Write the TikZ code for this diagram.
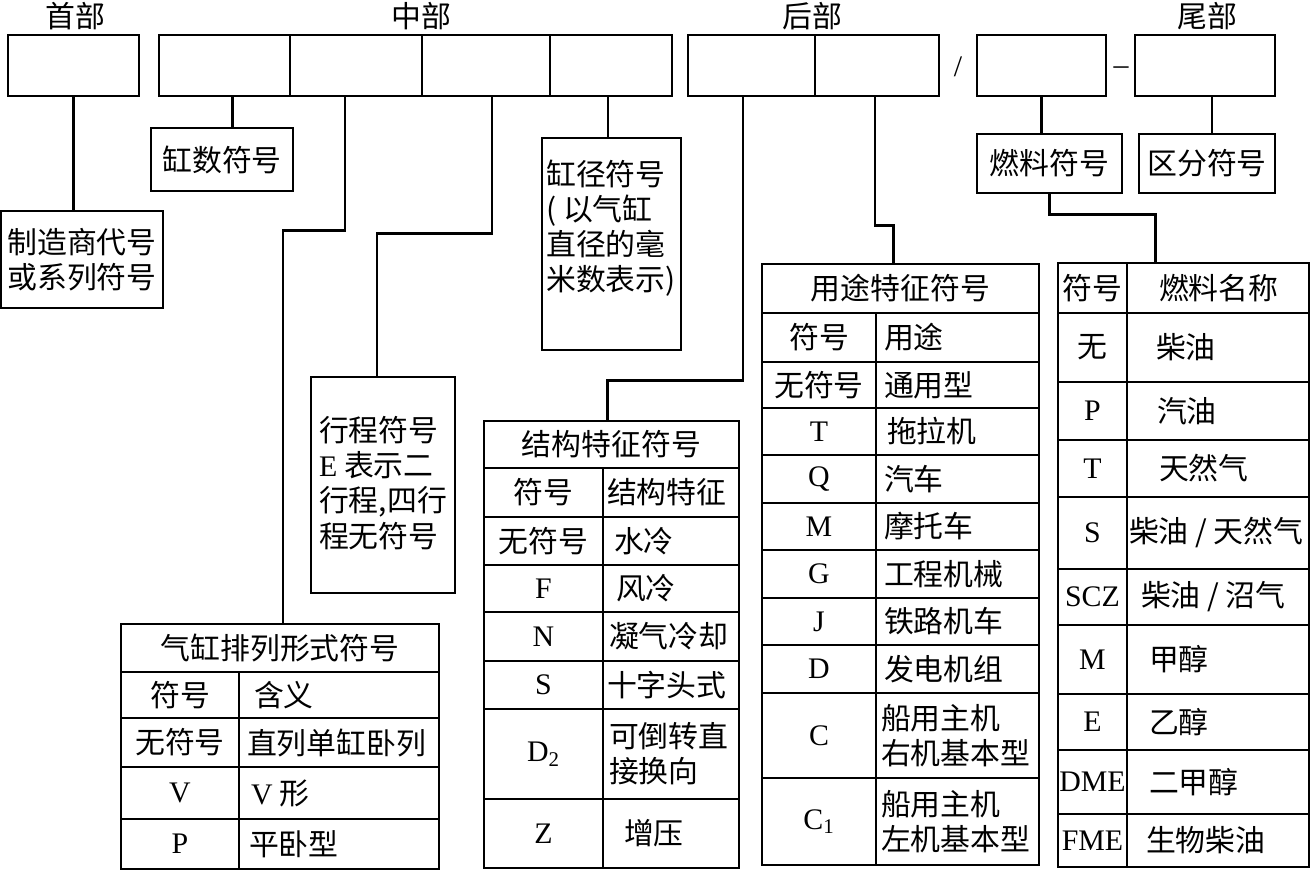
\documentclass[tikz,border=0pt]{standalone}
\usepackage{fontspec}
\setmainfont{Noto Sans CJK SC}
\newfontfamily\romfont{Liberation Serif}
\usetikzlibrary{calc,fit}

\newcommand{\lat}[1]{{\romfont #1}}

\tikzset{
    box/.style={draw, line width=1.5pt, inner sep=0pt},
    wire/.style={line width=1.5pt},
    txt/.style={inner sep=0pt, align=left},
}

\begin{document}
\begin{tikzpicture}[x=0.02cm, y=-0.02cm, font=\fontsize{17}{20}\selectfont]
    \useasboundingbox (0,0) rectangle (1311,871);

    % code frame
    \node (headlbl) at (75,16) {首部};
    \node (midlbl) at (421,16) {中部};
    \node (rearlbl) at (812,16) {后部};
    \node (taillbl) at (1207,16) {尾部};
    \node[box, fit={(8,35) (139,96)}] (head) {};
    \node[box, fit={(159,35) (290,96)}] (mid1) {};
    \node[box, fit={(290,35) (422,96)}] (mid2) {};
    \node[box, fit={(422,35) (550,96)}] (mid3) {};
    \node[box, fit={(550,35) (672,96)}] (mid4) {};
    \node[box, fit={(688,35) (815,96)}] (rear1) {};
    \node[box, fit={(815,35) (939,96)}] (rear2) {};
    \node[box, fit={(977,35) (1106,96)}] (tail1) {};
    \node[box, fit={(1135,35) (1275,96)}] (tail2) {};
    \node (slash) at (958,67) {\lat{/}};
    \node (dash) at (1121,71) {\lat{–}};

    % single boxes
    \node[box, fit={(1,211) (163,308)}] (maker) {};
    \node[txt, align=center] (makertxt) at (maker) {制造商代号\\或系列符号};
    \node[box, fit={(151,128) (293,191)}] (cyl) {};
    \node[txt] (cyltxt) at (cyl) {缸数符号};
    \node[box, fit={(542,138) (681,350)}] (bore) {};
    \node[txt] (boretxt) at (611,228) {缸径符号\\( 以气缸\\直径的毫\\米数表示)};
    \node[box, fit={(311,377) (455,593)}] (strk) {};
    \node[txt] (strktxt) at (383,483) {行程符号\\\lat{E} 表示二\\行程,四行\\程无符号};
    \node[box, fit={(977,134) (1122,193)}] (fuel) {};
    \node[txt] (fueltxt) at (fuel) {燃料符号};
    \node[box, fit={(1139,134) (1275,193)}] (dist) {};
    \node[txt] (disttxt) at (dist) {区分符号};

    % cylinder arrangement table
    \node[box, fit={(121,624) (439,672)}] (arr) {};
    \node[txt] (arrtxt) at (arr) {气缸排列形式符号};
    \foreach \ya/\yb/\sym/\mean/\xo [count=\i] in {672/718/符号/含义/16,
        718/767/无符号/直列单缸卧列/9, 767/819/\lat{V}/\lat{V} 形/13,
        819/869/\lat{P}/平卧型/11}{
        \node[box, fit={(121,\ya) (239,\yb)}] (arr-\i-s) {};
        \node[txt] at (arr-\i-s) {\sym};
        \node[box, fit={(239,\ya) (439,\yb)}] (arr-\i-m) {};
        \node[txt, anchor=west] (arr-\i-t) at ($(arr-\i-m.west)+(\xo,0)$) {\mean};
    }

    % structure table
    \node[box, fit={(484,421) (739,468)}] (str) {};
    \node[txt] (strtxt) at (str) {结构特征符号};
    \foreach \ya/\yb/\sym/\mean/\xo [count=\i] in {468/517/符号/结构特征/5,
        517/565/无符号/水冷/12, 565/612/\lat{F}/风冷/14, 612/661/\lat{N}/凝气冷却/7,
        661/709/\lat{S}/十字头式/5, 709/799/\lat{D\textsubscript{2}}/{可倒转直\\接换向}/7,
        799/868/\lat{Z}/增压/22}{
        \node[box, fit={(484,\ya) (603,\yb)}] (str-\i-s) {};
        \node[txt] at (str-\i-s) {\sym};
        \node[box, fit={(603,\ya) (739,\yb)}] (str-\i-m) {};
        \node[txt, anchor=west] (str-\i-t) at ($(str-\i-m.west)+(\xo,0)$) {\mean};
    }

    % use table
    \node[box, fit={(762,264) (1039,313)}] (use) {};
    \node[txt] (usetxt) at (use) {用途特征符号};
    \foreach \ya/\yb/\sym/\mean/\xo [count=\i] in {313/362/符号/用途/9,
        362/408/无符号/通用型/9, 408/455/\lat{T}/拖拉机/12, 455/503/\lat{Q}/汽车/9,
        503/550/\lat{M}/摩托车/9, 550/598/\lat{G}/工程机械/9, 598/645/\lat{J}/铁路机车/9,
        645/693/\lat{D}/发电机组/9, 693/778/\lat{C}/{船用主机\\右机基本型}/6,
        778/865/\lat{C\textsubscript{1}}/{船用主机\\左机基本型}/6}{
        \node[box, fit={(762,\ya) (876,\yb)}] (use-\i-s) {};
        \node[txt] at (use-\i-s) {\sym};
        \node[box, fit={(876,\ya) (1039,\yb)}] (use-\i-m) {};
        \node[txt, anchor=west] (use-\i-t) at ($(use-\i-m.west)+(\xo,0)$) {\mean};
    }

    % fuel table
    \foreach \ya/\yb/\sym/\mean/\xo [count=\i] in {263/313/符号/燃料名称/33,
        313/382/无/柴油/30, 382/440/\lat{P}/汽油/31, 440/497/\lat{T}/天然气/33,
        497/569/\lat{S}/{柴油 / 天然气}/3, 569/625/\lat{SCZ}/{柴油 / 沼气}/15,
        625/694/\lat{M}/甲醇/23, 694/750/\lat{E}/乙醇/23, 750/814/\lat{DME}/二甲醇/23,
        814/867/\lat{FME}/生物柴油/20}{
        \node[box, fit={(1058,\ya) (1127,\yb)}] (ful-\i-s) {};
        \node[txt] at (ful-\i-s) {\sym};
        \node[box, fit={(1127,\ya) (1309,\yb)}] (ful-\i-m) {};
        \node[txt, anchor=west] (ful-\i-t) at ($(ful-\i-m.west)+(\xo,0)$) {\mean};
    }

    % connectors
    \draw[wire] (head.south) -- (head.south |- maker.north);
    \draw[wire] ($(mid1.south)+(8,0)$) coordinate (c1) -- (c1 |- cyl.north);
    \draw[wire] ($(mid2.south)+(-11,0)$) -- ++(0,133) -| ($(arr.north)+(3,0)$);
    \draw[wire] ($(mid3.south)+(6,0)$) -- ++(0,136) -| ($(strk.north)+(-6,0)$);
    \draw[wire] ($(mid4.south)+(-3,0)$) coordinate (c4) -- (c4 |- bore.north);
    \draw[wire] ($(rear1.south)+(-8.5,0)$) -- ++(0,283) -| ($(str.north)+(-4,0)$);
    \draw[wire] ($(rear2.south)+(-2,0)$) -- ++(0,128) -| ($(use.north)+(-7,0)$);
    \draw[wire] (tail1.south) -- (tail1.south |- fuel.north);
    \draw[wire] ($(tail2.south)+(7,0)$) coordinate (c9) -- (c9 |- dist.north);
    \draw[wire] (fuel.south) -- ++(0,20) -| ($(ful-1-s.north east)+(27,0)$);
\end{tikzpicture}
\end{document}
